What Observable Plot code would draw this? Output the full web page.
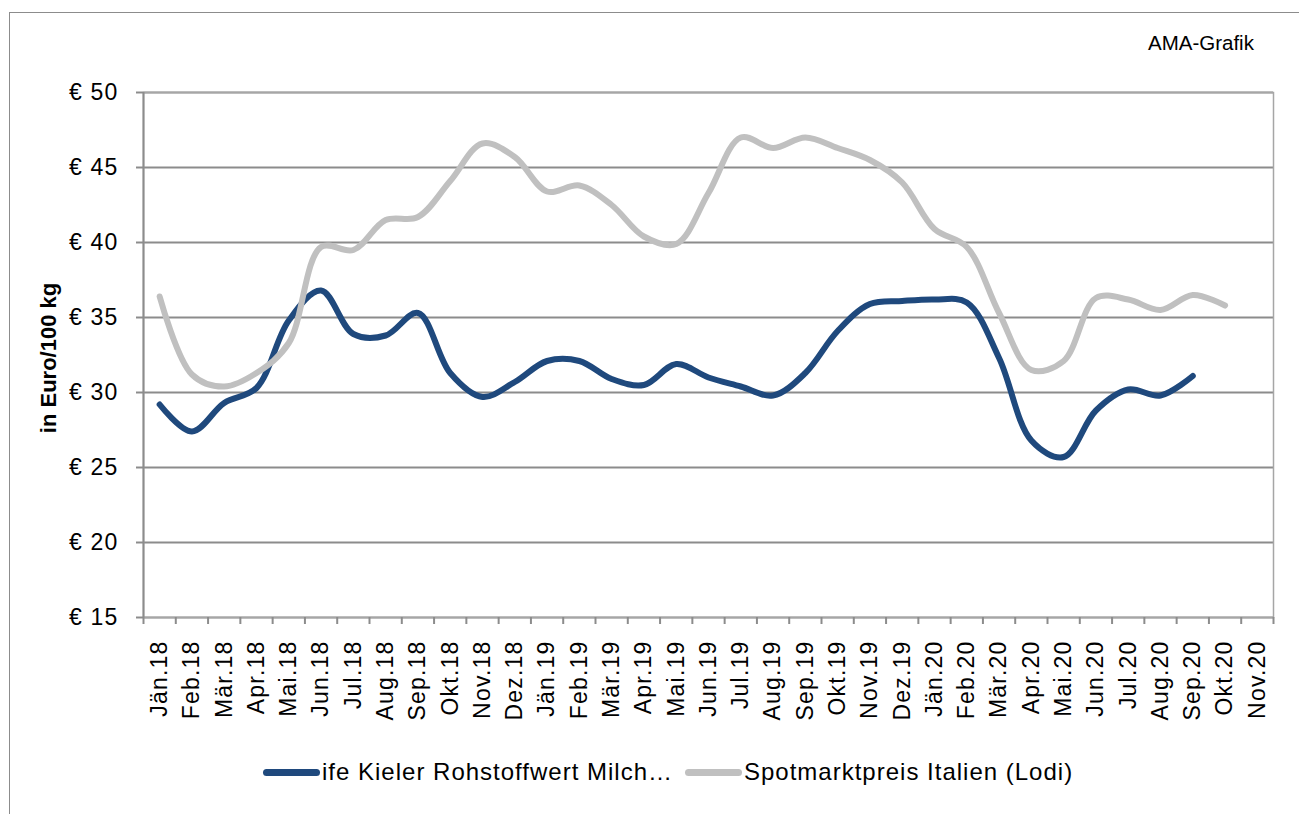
<!DOCTYPE html>
<html><head><meta charset="utf-8">
<script src="https://cdn.jsdelivr.net/npm/d3@7"></script>
<script src="https://cdn.jsdelivr.net/npm/@observablehq/plot@0.6"></script>
<style>
body{margin:0;background:#fff;font-family:"Liberation Sans",Arial,sans-serif;}
#wrap{position:relative;width:1299px;height:814px;overflow:hidden;background:#fff;}
#border{position:absolute;left:9px;top:12px;width:1400px;height:900px;border-left:1.5px solid #8c8c8c;border-top:1.5px solid #8c8c8c;}
#chart{position:absolute;left:0;top:0;}
#ama{position:absolute;left:1148px;top:31px;font-size:20.5px;color:#000;}
.lg{position:absolute;top:758px;display:flex;align-items:center;font-size:24px;letter-spacing:1px;color:#000;white-space:nowrap;}
.sw{width:57px;height:7px;border-radius:4px;margin-right:2px;}
#chart g[aria-label$="tick label"] text{letter-spacing:1.2px;}
</style></head>
<body>
<div id="wrap">
  <div id="border"></div>
  <div id="chart"></div>
  <div id="ama">AMA-Grafik</div>
  <div class="lg" id="lg1"></div>
  <div class="lg" id="lg2"></div>
</div>
<script>
const months = ["Jän.18","Feb.18","Mär.18","Apr.18","Mai.18","Jun.18","Jul.18","Aug.18","Sep.18","Okt.18","Nov.18","Dez.18",
  "Jän.19","Feb.19","Mär.19","Apr.19","Mai.19","Jun.19","Jul.19","Aug.19","Sep.19","Okt.19","Nov.19","Dez.19",
  "Jän.20","Feb.20","Mär.20","Apr.20","Mai.20","Jun.20","Jul.20","Aug.20","Sep.20","Okt.20","Nov.20"];
const kieler = [29.2,27.4,29.3,30.3,34.8,36.8,33.9,33.8,35.3,31.3,29.7,30.7,
  32.1,32.1,30.9,30.5,31.9,31.0,30.4,29.8,31.3,34.1,35.9,36.1,
  36.2,36.0,32.3,26.8,25.7,28.8,30.2,29.8,31.1];
const lodi = [36.4,31.2,30.4,31.3,33.3,39.7,39.5,41.5,41.7,44.1,46.6,45.7,
  43.4,43.8,42.5,40.4,39.9,43.3,47.0,46.3,47.0,46.3,45.5,44.0,
  40.9,39.7,35.3,31.5,32.1,36.3,36.2,35.5,36.5,35.8];
const yTicks = [15,20,25,30,35,40,45,50];
const seriesNames = ["ife Kieler Rohstoffwert Milch…","Spotmarktpreis Italien (Lodi)"];
const colors = ["#1f497d","#c0c0c0"];

const n = months.length;
const idx = d3.range(n);
const bounds = d3.range(n + 1).map(i => i - 0.5);
const kRows = kieler.map((v, i) => ({i, v}));
const lRows = lodi.map((v, i) => ({i, v}));

const chart = Plot.plot({
  width: 1299, height: 740,
  marginLeft: 143, marginRight: 26, marginTop: 92, marginBottom: 123,
  style: {fontFamily: "Liberation Sans, Arial, sans-serif", color: "#000", background: "transparent", overflow: "visible"},
  x: {domain: [-0.5, n - 0.5], axis: null},
  y: {domain: [15, 50], axis: null},
  marks: [
    Plot.gridY(yTicks, {stroke: "#8c8c8c", strokeOpacity: 1, strokeWidth: 2}),
    Plot.frame({stroke: "#a6a6a6", strokeWidth: 1.5}),
    Plot.ruleX([-0.5], {stroke: "#8c8c8c", strokeWidth: 2}),
    Plot.axisY(yTicks, {label: null, tickSize: 7, tickPadding: 18, fontSize: 23, tickFormat: d => "€ " + d, stroke: "#8c8c8c", strokeWidth: 2}),
    Plot.axisX(bounds, {label: null, tickSize: 7, tickFormat: () => "", stroke: "#8c8c8c", strokeWidth: 2}),
    Plot.axisX(idx, {label: null, tickSize: 0, tickPadding: 23, tickRotate: -90, fontSize: 23, tickFormat: i => months[i]}),
    Plot.line(kRows, {x: "i", y: "v", stroke: colors[0], strokeWidth: 6, curve: "catmull-rom"}),
    Plot.line(lRows, {x: "i", y: "v", stroke: colors[1], strokeWidth: 6, curve: "catmull-rom"}),
    Plot.text(["in Euro/100 kg"], {frameAnchor: "left", textAnchor: "middle", dx: -95, dy: 3, rotate: -90, fontWeight: "bold", fontSize: 22, fill: "#000"})
  ]
});
document.getElementById("chart").append(chart);

function legendItem(el, name, color, left) {
  el.style.left = left + "px";
  const sw = document.createElement("div");
  sw.className = "sw"; sw.style.background = color;
  const t = document.createElement("span"); t.textContent = name;
  el.append(sw, t);
}
legendItem(document.getElementById("lg1"), seriesNames[0], colors[0], 263);
legendItem(document.getElementById("lg2"), seriesNames[1], colors[1], 685);
</script>
</body></html>
